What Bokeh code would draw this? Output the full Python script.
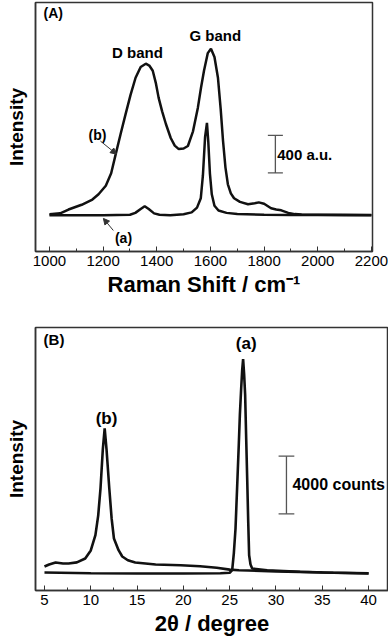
from bokeh.plotting import figure
from bokeh.layouts import column
from bokeh.models import (Range1d, SingleIntervalTicker, FixedTicker, Label,
                          Arrow, NormalHead, ColumnDataSource)
from bokeh.embed import file_html
from bokeh.resources import INLINE

# ---------------- Panel A : Raman spectra ----------------
raman_b_x = [1000, 1040, 1071, 1120, 1160, 1183, 1210, 1230, 1247, 1265, 1284, 1302,
             1321, 1340, 1359, 1372, 1385, 1397, 1407, 1420, 1434, 1452, 1467, 1482,
             1500, 1516, 1535, 1553, 1565, 1576, 1590, 1602, 1615, 1628, 1638, 1647,
             1656, 1665, 1676, 1688, 1710, 1740, 1765, 1780, 1800, 1826, 1845, 1864,
             1890, 1915, 1940, 2000, 2100, 2200]
raman_b_y = [390, 400, 440, 490, 545, 600, 690, 820, 1021, 1230, 1443, 1640,
             1822, 1935, 1969, 1950, 1895, 1760, 1611, 1470, 1337, 1190, 1110, 1074,
             1080, 1106, 1260, 1506, 1720, 1895, 2080, 2127, 2040, 1822, 1500, 1158,
             880, 705, 610, 558, 520, 495, 505, 515, 500, 453, 440, 432,
             405, 392, 388, 385, 385, 383]

raman_a_x = [1000, 1100, 1200, 1300, 1320, 1340, 1355, 1370, 1390, 1410, 1450, 1500,
             1530, 1550, 1564, 1572, 1580, 1587, 1592, 1598, 1605, 1615, 1630, 1660,
             1700, 1800, 1900, 2000, 2100, 2200]
raman_a_y = [379, 380, 379, 385, 405, 445, 474, 445, 400, 385, 380, 390,
             410, 460, 558, 800, 1200, 1348, 1150, 820, 600, 480, 430, 405,
             392, 385, 383, 382, 380, 380]

# ---------------- Panel B : XRD patterns ----------------
xrd_b_x = [5.0, 5.5, 6.2, 7.0, 7.6, 8.5, 9.4, 10.0, 10.5, 10.8, 11.05, 11.3, 11.5,
           11.7, 12.0, 12.25, 12.5, 13.0, 13.4, 14.0, 14.8, 17.0, 19.7, 21.8, 23.6,
           25.0, 26.0, 27.0, 30.0, 35.0, 40.0]
xrd_b_y = [1666, 1804, 1943, 1874, 1874, 1950, 2221, 2776, 3838, 5200, 7079, 9800, 11243,
           9800, 7079, 5000, 3609, 2800, 2360, 2100, 1943, 1804, 1756, 1686, 1575,
           1450, 1400, 1388, 1330, 1250, 1200]

xrd_a_x = [5.0, 10.0, 15.0, 20.0, 24.0, 25.0, 25.27, 25.45, 25.63, 25.8, 25.98, 26.1,
           26.24, 26.35, 26.45, 26.56, 26.67, 26.78, 26.89, 27.0, 27.1, 27.25, 27.43,
           29.05, 32.6, 36.2, 40.0]
xrd_a_y = [1249, 1200, 1180, 1180, 1200, 1230, 1409, 2600, 4303, 7100, 10084, 12200,
           14019, 15300, 16052, 15000, 13554, 10600, 7773, 4800, 2450, 1800, 1527,
           1409, 1298, 1228, 1180]

# scale bars (x, y_bottom, y_top, cap half width)
bar_a = [1842, 824, 1218, 28]
bar_b = [31.13, 5323, 9320, 0.85]

FONT = "Liberation Sans"
LINE = "#111111"


def style(p, xticker, xlabel):
    p.xaxis.ticker = xticker
    p.xaxis.axis_label = xlabel
    p.xaxis.major_tick_in = 5
    p.xaxis.major_tick_out = 0
    p.xaxis.minor_tick_in = 3
    p.xaxis.minor_tick_out = 0
    p.xaxis.major_tick_line_color = "#333333"
    p.xaxis.minor_tick_line_color = "#333333"
    p.xaxis.major_label_text_font = FONT
    p.xaxis.major_label_text_font_size = "15px"
    p.xaxis.major_label_text_color = "black"
    p.xaxis.major_label_standoff = 4
    p.xaxis.axis_label_text_font = FONT
    p.xaxis.axis_label_text_font_style = "bold"
    p.xaxis.axis_label_text_font_size = "22px"
    p.xaxis.axis_label_text_color = "black"
    p.xaxis.axis_label_standoff = 3
    p.yaxis.ticker = FixedTicker(ticks=[])
    p.yaxis.minor_tick_line_color = None
    p.yaxis.major_tick_line_color = None
    p.yaxis.axis_label = "Intensity"
    p.yaxis.axis_label_text_font = FONT
    p.yaxis.axis_label_text_font_style = "bold"
    p.yaxis.axis_label_text_font_size = "19px"
    p.yaxis.axis_label_text_color = "black"
    p.yaxis.axis_label_standoff = 9
    p.axis.axis_line_color = "#333333"
    p.axis.axis_line_width = 1.5
    p.xgrid.visible = False
    p.ygrid.visible = False
    p.outline_line_color = "#333333"
    p.outline_line_width = 1.5
    p.background_fill_color = "white"
    p.border_fill_color = "white"


def label(p, x, y, text, size, align="center", baseline="middle"):
    p.add_layout(Label(x=x, y=y, text=text, text_font=FONT, text_font_style="bold",
                       text_font_size=size, text_align=align, text_baseline=baseline,
                       text_color="black"))


def scale_bar(p, bar, color="#555555"):
    x, y0, y1, hw = bar
    src = ColumnDataSource(dict(x0=[x, x - hw, x - hw], y0=[y0, y0, y1],
                                x1=[x, x + hw, x + hw], y1=[y1, y0, y1]))
    p.segment("x0", "y0", "x1", "y1", source=src, line_color=color, line_width=1.3)


# ---------------- figure A ----------------
p1 = figure(frame_width=337, frame_height=249, output_backend="svg", toolbar_location=None,
            x_range=Range1d(948, 2204), y_range=Range1d(0, 2611),
            min_border_left=35, min_border_right=16, min_border_top=2,
            min_border_bottom=53)
style(p1, SingleIntervalTicker(interval=200, num_minor_ticks=2), "Raman Shift / cm\u207b\u00b9")
p1.line(raman_b_x, raman_b_y, line_color=LINE, line_width=2.5)
p1.line(raman_a_x, raman_a_y, line_color=LINE, line_width=2.5)
label(p1, 978, 2506, "(A)", "14px", align="left")
label(p1, 1328, 2085, "D band", "15px")
label(p1, 1618, 2264, "G band", "15px")
label(p1, 1179, 1221, "(b)", "14px")
label(p1, 1276, 137, "(a)", "14px")
label(p1, 1849, 1021, "400 a.u.", "15px", align="left")
scale_bar(p1, bar_a)
p1.add_layout(Arrow(end=NormalHead(size=6, fill_color="#333333", line_color="#333333"),
                    x_start=1190, y_start=1158, x_end=1250, y_end=1021,
                    line_color="#333333", line_width=1))
p1.add_layout(Arrow(end=NormalHead(size=6, fill_color="#333333", line_color="#333333"),
                    x_start=1238, y_start=221, x_end=1201, y_end=347,
                    line_color="#333333", line_width=1))

# ---------------- figure B ----------------
p2 = figure(frame_width=353, frame_height=263, output_backend="svg", toolbar_location=None,
            x_range=Range1d(4.03, 42.15), y_range=Range1d(0, 18250),
            min_border_left=35, min_border_right=0, min_border_top=23,
            min_border_bottom=52)
style(p2, SingleIntervalTicker(interval=5, num_minor_ticks=2), "2\u03b8 / degree")
p2.line(xrd_b_x, xrd_b_y, line_color=LINE, line_width=2.6)
p2.line(xrd_a_x, xrd_a_y, line_color=LINE, line_width=2.6)
label(p2, 4.9, 17419, "(B)", "15px", align="left")
label(p2, 26.78, 17142, "(a)", "17px")
label(p2, 11.70, 11937, "(b)", "17px")
label(p2, 31.78, 7377, "4000 counts", "16px", align="left")
scale_bar(p2, bar_b)

layout = column(p1, p2, spacing=0)
open("out.html", "w").write(file_html(layout, INLINE))
